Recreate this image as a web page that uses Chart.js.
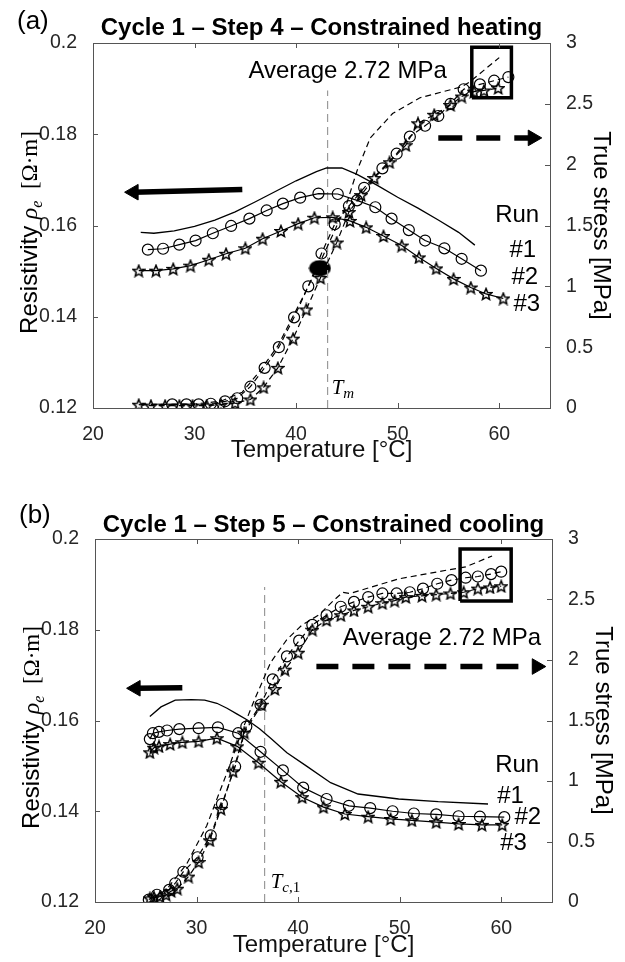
<!DOCTYPE html>
<html><head><meta charset="utf-8">
<script src="https://cdn.jsdelivr.net/npm/chart.js@4.4.1/dist/chart.umd.min.js"></script>
<style>
html,body{margin:0;padding:0;background:#fff;}
#wrap{position:relative;width:625px;height:962px;overflow:hidden;}
#ca{position:absolute;left:0;top:0;}
#cb{position:absolute;left:0;top:480px;}
</style></head><body>
<div id="wrap"><canvas id="ca" width="625" height="480"></canvas><canvas id="cb" width="625" height="482"></canvas></div>
<script>
// ---------- tick labels ----------
const X_TICKS = [20, 30, 40, 50, 60];
const RHO_TICKS = [0.12, 0.14, 0.16, 0.18, 0.2];
const STRESS_TICKS = [0, 0.5, 1, 1.5, 2, 2.5, 3];

// ---------- (a) Step 4 – constrained heating ----------
// resistivity [Ohm.m]
const aRun1RhoT = [24.7, 26, 28, 30, 32, 34, 36, 38, 40, 42, 43, 44.5, 46, 48, 50, 52, 54, 56, 57.6];
const aRun1Rho  = [0.1585, 0.1583, 0.1588, 0.1598, 0.1612, 0.163, 0.1652, 0.1675, 0.1698, 0.1718, 0.1726, 0.1726, 0.1712, 0.1688, 0.1662, 0.1638, 0.1612, 0.1585, 0.1557];
const aRun2RhoT = [25.4, 26.9, 28.5, 30.1, 31.8, 33.6, 35.4, 37.1, 38.7, 40.4, 42.2, 44.1, 46.0, 47.8, 49.4, 51.1, 52.7, 54.6, 56.3, 58.2];
const aRun2Rho  = [0.1547, 0.1549, 0.1558, 0.1567, 0.1583, 0.1599, 0.1615, 0.1633, 0.1648, 0.1661, 0.167, 0.1669, 0.1655, 0.164, 0.1615, 0.159, 0.1567, 0.155, 0.1527, 0.1501];
const aRun3RhoT = [24.5, 26.2, 27.9, 29.6, 31.4, 33.1, 35.0, 36.7, 38.5, 40.2, 41.8, 43.6, 45.3, 46.9, 48.6, 50.4, 52.1, 53.8, 55.5, 57.2, 58.7, 60.4];
const aRun3Rho  = [0.1501, 0.1501, 0.1505, 0.1512, 0.1525, 0.1538, 0.155, 0.1571, 0.1588, 0.1604, 0.1617, 0.1618, 0.161, 0.1596, 0.1577, 0.1556, 0.153, 0.1506, 0.1483, 0.1464, 0.145, 0.144];
// true stress [MPa]
const aRun1SigT = [24.7, 28, 30, 31.5, 32.7, 34.7, 36.3, 38.2, 40.6, 42.2, 43.7, 44.9, 46.0, 47.3, 49.5, 52.2, 56.3, 57.1, 60.0];
const aRun1Sig  = [0.03, 0.03, 0.035, 0.045, 0.06, 0.13, 0.29, 0.51, 0.9, 1.17, 1.44, 1.66, 1.95, 2.22, 2.42, 2.55, 2.64, 2.68, 2.88];
const aRun2SigT = [27.8, 29.2, 30.4, 31.6, 33.0, 34.2, 35.5, 36.9, 38.3, 39.8, 41.2, 42.5, 43.8, 45.2, 46.7, 48.5, 49.9, 51.2, 52.7, 54.0, 55.2, 56.5, 58.1, 59.5, 60.9];
const aRun2Sig  = [0.03, 0.03, 0.03, 0.035, 0.055, 0.08, 0.175, 0.33, 0.5, 0.745, 1.0, 1.27, 1.51, 1.66, 1.81, 1.97, 2.09, 2.23, 2.32, 2.4, 2.5, 2.62, 2.66, 2.69, 2.72];
const aRun3SigT = [24.5, 25.7, 27.1, 28.5, 29.8, 31.2, 32.6, 34.0, 35.5, 36.8, 38.2, 39.7, 41.0, 42.4, 44.0, 45.2, 46.4, 47.7, 49.2, 50.8, 52.0, 53.6, 55.2, 56.3, 57.5, 58.5, 59.9];
const aRun3Sig  = [0.027, 0.02, 0.02, 0.02, 0.02, 0.02, 0.027, 0.04, 0.07, 0.17, 0.33, 0.57, 0.81, 1.07, 1.36, 1.61, 1.75, 1.89, 2.02, 2.16, 2.34, 2.41, 2.49, 2.56, 2.6, 2.61, 2.63];
const aTmT = [43.1];          // T_m line temperature
const aMarkT = [42.35];       // filled marker
const aMarkSig = [1.15];

// ---------- (b) Step 5 – constrained cooling ----------
const bRun1RhoT = [25.4, 26.5, 27.9, 29.5, 30.8, 32, 33, 34, 35, 36.2, 37.3, 38.9, 40.8, 43.2, 45.9, 49.9, 53.8, 58.7];
const bRun1Rho  = [0.1609, 0.163, 0.1645, 0.1646, 0.1645, 0.1638, 0.1627, 0.1614, 0.1601, 0.1582, 0.1561, 0.1529, 0.15, 0.1463, 0.1438, 0.1427, 0.1421, 0.1416];
const bRun2RhoT = [25.4, 25.7, 26.3, 27.1, 28.3, 30.2, 32.1, 34.1, 36.3, 38.5, 40.5, 42.8, 45.0, 47.1, 49.3, 51.4, 53.6, 55.8, 57.9, 60.3];
const bRun2Rho  = [0.1559, 0.1572, 0.1575, 0.1578, 0.1581, 0.1583, 0.1585, 0.1572, 0.1531, 0.149, 0.1452, 0.1427, 0.1412, 0.1407, 0.14, 0.1395, 0.1393, 0.1389, 0.1388, 0.1387];
const bRun3RhoT = [25.4, 25.8, 26.3, 27.4, 28.6, 30.2, 32.0, 34.0, 36.1, 38.3, 40.4, 42.5, 44.6, 46.9, 49.1, 51.2, 53.6, 55.8, 58.1, 60.1];
const bRun3Rho  = [0.153, 0.154, 0.1543, 0.1548, 0.1552, 0.1554, 0.1561, 0.1543, 0.1507, 0.1465, 0.1431, 0.1409, 0.1394, 0.1388, 0.1383, 0.138, 0.1376, 0.1372, 0.137, 0.137];
const bRun1SigT = [25.7, 27.1, 29.0, 31.0, 33.0, 34.5, 35.7, 37.3, 38.9, 40.4, 42.0, 43.6, 44.4, 45.1, 49.9, 53.8, 56.5, 59.1];
const bRun1Sig  = [0.02, 0.11, 0.31, 0.63, 1.07, 1.42, 1.67, 1.98, 2.17, 2.29, 2.37, 2.5, 2.56, 2.55, 2.67, 2.73, 2.77, 2.86];
const bRun2SigT = [25.3, 26.1, 27.3, 27.9, 28.7, 30.1, 31.4, 32.5, 33.8, 34.9, 36.3, 37.5, 38.9, 40.1, 41.4, 42.8, 44.2, 45.5, 46.9, 48.3, 49.7, 51.0, 52.3, 53.7, 55.1, 56.5, 57.7, 59.0, 60.0];
const bRun2Sig  = [0.02, 0.06, 0.1, 0.155, 0.25, 0.37, 0.55, 0.81, 1.12, 1.45, 1.63, 1.84, 2.03, 2.16, 2.29, 2.37, 2.44, 2.48, 2.52, 2.55, 2.55, 2.56, 2.59, 2.63, 2.66, 2.68, 2.69, 2.71, 2.73];
const bRun3SigT = [25.4, 25.8, 26.4, 27.0, 27.5, 28.1, 29.2, 30.2, 31.3, 32.4, 33.6, 34.7, 36.4, 37.7, 38.7, 40.0, 41.4, 42.8, 44.2, 45.5, 46.9, 48.3, 49.5, 50.6, 52.2, 53.6, 55.0, 56.3, 57.7, 58.9, 60.0];
const bRun3Sig  = [0.03, 0.04, 0.045, 0.06, 0.09, 0.11, 0.21, 0.33, 0.51, 0.77, 1.08, 1.4, 1.63, 1.76, 1.92, 2.06, 2.25, 2.33, 2.37, 2.41, 2.44, 2.47, 2.49, 2.52, 2.53, 2.54, 2.55, 2.56, 2.59, 2.6, 2.61];
const bTcT = [36.7];

// ---------- helpers ----------
const SANS = '"Liberation Sans", Arial, sans-serif';
const SERIF = '"Liberation Serif", "DejaVu Serif", serif';
const pts = (T, V) => T.map((t, i) => ({x: t, y: V[i]}));

function starImg(size) {
  const c = document.createElement('canvas'); c.width = c.height = size;
  const g = c.getContext('2d'); const cx = size / 2, cy = size / 2 + 0.6;
  const R = size / 2 - 1, r = R * 0.45;
  g.beginPath();
  for (let i = 0; i < 10; i++) {
    const a = -Math.PI / 2 + i * Math.PI / 5, rr = i % 2 ? r : R;
    g.lineTo(cx + rr * Math.cos(a), cy + rr * Math.sin(a));
  }
  g.closePath(); g.strokeStyle = '#000'; g.lineWidth = 1.5; g.lineJoin = 'miter'; g.stroke();
  return c;
}
function ellipseImg(w, h) {
  const c = document.createElement('canvas'); c.width = w; c.height = h;
  const g = c.getContext('2d'); g.beginPath();
  g.ellipse(w / 2, h / 2, w / 2 - 0.5, h / 2 - 0.5, 0, 0, Math.PI * 2);
  g.fillStyle = '#000'; g.fill(); return c;
}
const STAR = starImg(14);
const BLOB = ellipseImg(23, 17);

function resSolid(data) {
  return {data, yAxisID: 'y', borderColor: '#000', borderWidth: 1.3, pointRadius: 0, fill: false};
}
function resMarked(data, style) {
  return {data, yAxisID: 'y', borderColor: '#000', borderWidth: 1.2, pointStyle: style, pointRadius: 5.5,
    pointBorderColor: '#000', pointBackgroundColor: 'rgba(0,0,0,0)', pointBorderWidth: 1.2, fill: false};
}
function sigDash(data, style) {
  const d = {data, yAxisID: 'y2', borderColor: '#000', borderWidth: 1.2, borderDash: [6, 4], fill: false,
    pointRadius: 0};
  if (style) Object.assign(d, {pointStyle: style, pointRadius: 5.5, pointBorderColor: '#000',
    pointBackgroundColor: 'rgba(0,0,0,0)', pointBorderWidth: 1.2});
  return d;
}
function vLine(t, y0, y1) {
  return {data: [{x: t, y: y0}, {x: t, y: y1}], yAxisID: 'y', borderColor: '#9a9a9a', borderWidth: 1.2,
    borderDash: [8, 5], pointRadius: 0, fill: false};
}
function arrow(x0, y0, x1, y1, axis, dash, rot) {
  return {data: [{x: x0, y: y0}, {x: x1, y: y1}], yAxisID: axis, borderColor: '#000', borderWidth: 5.5,
    borderDash: dash || [], pointStyle: 'triangle', pointRadius: [0, 9], rotation: rot,
    pointBackgroundColor: '#000', pointBorderColor: '#000', pointBorderWidth: 1, fill: false};
}
function box(x0, x1, y0, y1) {
  return {data: [{x: x0, y: y0}, {x: x1, y: y0}, {x: x1, y: y1}, {x: x0, y: y1}, {x: x0, y: y0}],
    yAxisID: 'y2', borderColor: '#000', borderWidth: 3.5, pointRadius: 0, fill: false, borderJoinStyle: 'miter'};
}

function drawRich(ctx, parts, x, y, rot, center) {
  ctx.save(); ctx.translate(x, y); ctx.rotate(rot || 0);
  let w = 0;
  parts.forEach(p => { ctx.font = p.font; w += ctx.measureText(p.t).width; });
  let cx = center ? -w / 2 : 0;
  ctx.textBaseline = 'alphabetic'; ctx.textAlign = 'left';
  parts.forEach(p => { ctx.font = p.font; ctx.fillStyle = p.color || '#000'; ctx.fillText(p.t, cx, p.dy || 0); cx += ctx.measureText(p.t).width; });
  ctx.restore();
}

const decor = {
  id: 'decor',
  afterDraw(chart, args, o) {
    const ctx = chart.ctx, a = chart.chartArea;
    const xs = chart.scales.x, ys = chart.scales.y, y2 = chart.scales.y2;
    ctx.save();
    // axes box and inward ticks
    ctx.strokeStyle = '#555'; ctx.lineWidth = 1;
    ctx.strokeRect(Math.round(a.left) + 0.5, Math.round(a.top) + 0.5, Math.round(a.right - a.left), Math.round(a.bottom - a.top));
    ctx.beginPath();
    xs.ticks.forEach(t => { const p = Math.round(xs.getPixelForValue(t.value)) + 0.5;
      ctx.moveTo(p, a.bottom); ctx.lineTo(p, a.bottom - 5); ctx.moveTo(p, a.top); ctx.lineTo(p, a.top + 5); });
    ys.ticks.forEach(t => { const p = Math.round(ys.getPixelForValue(t.value)) + 0.5;
      ctx.moveTo(a.left, p); ctx.lineTo(a.left + 5, p); });
    y2.ticks.forEach(t => { const p = Math.round(y2.getPixelForValue(t.value)) + 0.5;
      ctx.moveTo(a.right, p); ctx.lineTo(a.right - 5, p); });
    ctx.stroke();
    // panel label and title
    drawRich(ctx, [{t: o.panel, font: '26px ' + SANS}], o.panelX, o.panelY, 0, false);
    drawRich(ctx, [{t: o.title, font: 'bold 24px ' + SANS}], (a.left + a.right) / 2, o.titleY, 0, true);
    // axis titles
    drawRich(ctx, [{t: 'Temperature [°C]', font: '24px ' + SANS, color: '#111'}], (a.left + a.right) / 2, o.xLabY, 0, true);
    drawRich(ctx, [
      {t: 'Resistivity ', font: '24px ' + SANS},
      {t: 'ρ', font: 'italic 24px ' + SERIF},
      {t: 'e', font: 'italic 16px ' + SERIF, dy: 5},
      {t: '  [Ω·m]', font: '23px ' + SERIF}
    ], a.left - 56, (a.top + a.bottom) / 2 + 7, -Math.PI / 2, true);
    drawRich(ctx, [{t: 'True stress [MPa]', font: '24px ' + SANS}], a.right + 44, (a.top + a.bottom) / 2, Math.PI / 2, true);
    // annotations
    (o.notes || []).forEach(n => {
      const sc = chart.scales[n.ax];
      drawRich(ctx, n.parts, xs.getPixelForValue(n.x), sc.getPixelForValue(n.y), 0, false);
    });
    ctx.restore();
  }
};

function makeChart(id, datasets, geom, deco) {
  return new Chart(document.getElementById(id), {
    type: 'line',
    data: {datasets},
    plugins: [decor],
    options: {
      responsive: false, animation: false, devicePixelRatio: 1,
      layout: {padding: {top: geom.top, left: 0, right: 0, bottom: 0}},
      plugins: {legend: {display: false}, title: {display: false}, tooltip: {enabled: false}, decor: deco},
      elements: {line: {tension: 0}},
      scales: {
        x: {type: 'linear', min: 20, max: 65, grid: {display: false}, border: {display: false},
          afterBuildTicks: s => { s.ticks = X_TICKS.map(v => ({value: v})); },
          afterFit: s => { s.height = geom.xH; },
          ticks: {color: '#262626', font: {family: SANS, size: 19.5}, padding: 7, maxRotation: 0, autoSkip: false,
            callback: v => String(v)}},
        y: {type: 'linear', position: 'left', min: 0.12, max: 0.2, grid: {display: false}, border: {display: false},
          afterBuildTicks: s => { s.ticks = RHO_TICKS.map(v => ({value: v})); },
          afterFit: s => { s.width = geom.left; },
          ticks: {color: '#262626', font: {family: SANS, size: 19.5}, padding: 8, autoSkip: false,
            callback: v => String(v)}},
        y2: {type: 'linear', position: 'right', min: 0, max: 3, grid: {display: false}, border: {display: false},
          afterBuildTicks: s => { s.ticks = STRESS_TICKS.map(v => ({value: v})); },
          afterFit: s => { s.width = geom.right; },
          ticks: {color: '#262626', font: {family: SANS, size: 19.5}, padding: 8, autoSkip: false,
            callback: v => String(v)}}
      }
    }
  });
}

const txt = (t) => [{t, font: '24px ' + SANS}];

// ---------- panel (a) ----------
makeChart('ca', [
  resSolid(pts(aRun1RhoT, aRun1Rho)),
  resMarked(pts(aRun2RhoT, aRun2Rho), 'circle'),
  resMarked(pts(aRun3RhoT, aRun3Rho), STAR),
  sigDash(pts(aRun1SigT, aRun1Sig)),
  sigDash(pts(aRun2SigT, aRun2Sig), 'circle'),
  sigDash(pts(aRun3SigT, aRun3Sig), STAR),
  vLine(aTmT[0], 0.12, 0.1896),
  {data: pts(aMarkT, aMarkSig), yAxisID: 'y2', showLine: false, pointStyle: BLOB, pointRadius: 10},
  arrow(34.7, 0.1679, 24.0, 0.1673, 'y', [], -90),
  arrow(54.0, 2.22, 63.3, 2.22, 'y2', [24, 14], 90),
  box(57.3, 61.2, 2.55, 2.965)
], {top: 43, left: 93, right: 75, xH: 72}, {
  panel: '(a)', panelX: 17, panelY: 29, title: 'Cycle 1 – Step 4 – Constrained heating', titleY: 35, xLabY: 457,
  notes: [
    {x: 35.3, y: 2.71, ax: 'y2', parts: txt('Average 2.72 MPa')},
    {x: 59.6, y: 1.526, ax: 'y2', parts: txt('Run')},
    {x: 61.0, y: 1.238, ax: 'y2', parts: txt('#1')},
    {x: 61.2, y: 1.019, ax: 'y2', parts: txt('#2')},
    {x: 61.4, y: 0.80, ax: 'y2', parts: txt('#3')},
    {x: 43.5, y: 0.115, ax: 'y2', parts: [{t: 'T', font: 'italic 21px ' + SERIF}, {t: 'm', font: 'italic 15px ' + SERIF, dy: 4}]}
  ]
});

// ---------- panel (b) ----------
makeChart('cb', [
  resSolid(pts(bRun1RhoT, bRun1Rho)),
  resMarked(pts(bRun2RhoT, bRun2Rho), 'circle'),
  resMarked(pts(bRun3RhoT, bRun3Rho), STAR),
  sigDash(pts(bRun1SigT, bRun1Sig)),
  sigDash(pts(bRun2SigT, bRun2Sig), 'circle'),
  sigDash(pts(bRun3SigT, bRun3Sig), STAR),
  vLine(bTcT[0], 0.12, 0.1894),
  arrow(28.6, 0.1672, 24.0, 0.1671, 'y', [], -90),
  arrow(41.8, 1.946, 63.5, 1.946, 'y2', [22, 14], 90),
  box(55.95, 60.98, 2.488, 2.918)
], {top: 59, left: 95, right: 73, xH: 60}, {
  panel: '(b)', panelX: 19, panelY: 43, title: 'Cycle 1 – Step 5 – Constrained cooling', titleY: 52, xLabY: 472,
  notes: [
    {x: 44.4, y: 2.128, ax: 'y2', parts: txt('Average 2.72 MPa')},
    {x: 59.4, y: 1.074, ax: 'y2', parts: txt('Run')},
    {x: 59.6, y: 0.817, ax: 'y2', parts: txt('#1')},
    {x: 61.3, y: 0.646, ax: 'y2', parts: txt('#2')},
    {x: 59.9, y: 0.428, ax: 'y2', parts: txt('#3')},
    {x: 37.3, y: 0.114, ax: 'y2', parts: [{t: 'T', font: 'italic 21px ' + SERIF}, {t: 'c', font: 'italic 15px ' + SERIF, dy: 4}, {t: ',1', font: '15px ' + SERIF, dy: 4}]}
  ]
});
</script></body></html>
